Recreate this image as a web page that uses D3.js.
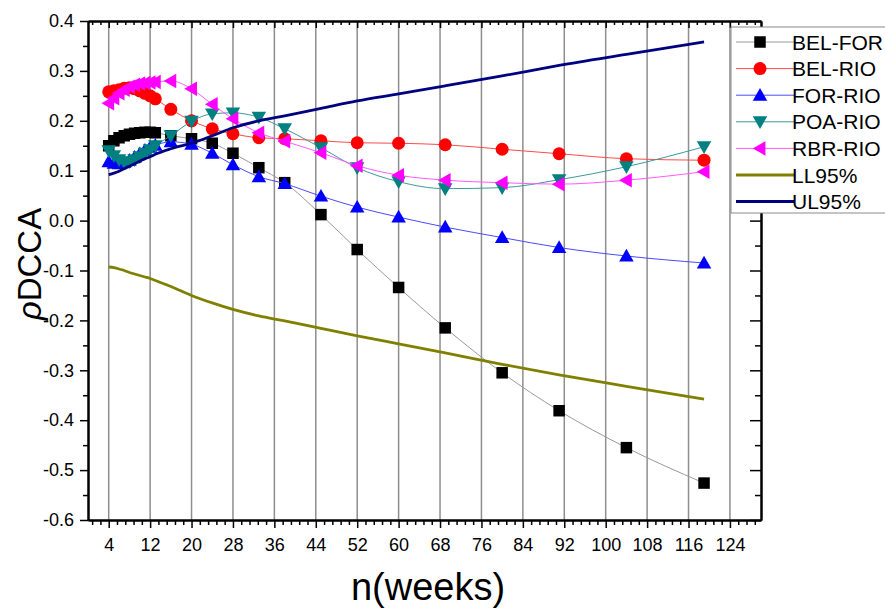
<!DOCTYPE html>
<html>
<head>
<meta charset="utf-8">
<script src="https://cdn.jsdelivr.net/npm/d3@7"></script>
<style>
  body { margin: 0; background: #fff; }
  svg { font-family: "Liberation Sans", Arial, sans-serif; }
</style>
</head>
<body>
<svg width="885" height="612"></svg>
<script>
// n values (weeks) shared by all series
const nWeeks = [4, 5, 6, 7, 8, 9, 10, 11, 12, 13, 16, 20, 24, 28, 33, 38, 45, 52, 60, 69, 80, 91, 104, 119];

const belFor = [0.150, 0.160, 0.166, 0.170, 0.173, 0.175, 0.176, 0.177, 0.177, 0.176, 0.170, 0.164, 0.155, 0.135, 0.106, 0.076, 0.012, -0.058, -0.134, -0.215, -0.305, -0.381, -0.455, -0.526];
const belRio = [0.258, 0.260, 0.262, 0.265, 0.266, 0.264, 0.260, 0.255, 0.250, 0.244, 0.223, 0.200, 0.184, 0.174, 0.166, 0.164, 0.160, 0.156, 0.155, 0.152, 0.143, 0.134, 0.124, 0.121];
const forRio = [0.118, 0.115, 0.114, 0.117, 0.121, 0.127, 0.134, 0.141, 0.147, 0.151, 0.158, 0.153, 0.135, 0.112, 0.088, 0.074, 0.049, 0.027, 0.007, -0.013, -0.034, -0.054, -0.071, -0.085];
const poaRio = [0.140, 0.130, 0.122, 0.117, 0.118, 0.122, 0.128, 0.135, 0.142, 0.150, 0.170, 0.199, 0.214, 0.216, 0.207, 0.184, 0.146, 0.106, 0.078, 0.064, 0.066, 0.082, 0.108, 0.148];
const rbrRio = [0.235, 0.245, 0.255, 0.262, 0.268, 0.272, 0.275, 0.276, 0.277, 0.278, 0.280, 0.264, 0.233, 0.204, 0.176, 0.159, 0.136, 0.110, 0.091, 0.081, 0.076, 0.073, 0.081, 0.098];
const ll95 = [-0.093, -0.094, -0.097, -0.100, -0.104, -0.107, -0.110, -0.113, -0.116, -0.120, -0.132, -0.150, -0.165, -0.178, -0.191, -0.201, -0.216, -0.231, -0.247, -0.265, -0.288, -0.309, -0.332, -0.358];
const ul95 = [0.092, 0.095, 0.099, 0.104, 0.109, 0.114, 0.119, 0.124, 0.128, 0.133, 0.144, 0.155, 0.170, 0.186, 0.200, 0.210, 0.225, 0.240, 0.254, 0.270, 0.290, 0.311, 0.333, 0.358];

const xTicks = [4, 12, 20, 28, 36, 44, 52, 60, 68, 76, 84, 92, 100, 108, 116, 124];
const yTicks = [0.4, 0.3, 0.2, 0.1, 0.0, -0.1, -0.2, -0.3, -0.4, -0.5, -0.6];

const series = [
  {name: "BEL-FOR", values: belFor, color: "#000000", line: "#9a9a9a", marker: "square"},
  {name: "BEL-RIO", values: belRio, color: "#ff0000", line: "#ff4a4a", marker: "circle"},
  {name: "FOR-RIO", values: forRio, color: "#0000ff", line: "#4a4aff", marker: "up"},
  {name: "POA-RIO", values: poaRio, color: "#008080", line: "#3a9a9a", marker: "down"},
  {name: "RBR-RIO", values: rbrRio, color: "#ff00ff", line: "#ff5aff", marker: "left"},
  {name: "LL95%", values: ll95, color: "#808000", line: "#808000", marker: null},
  {name: "UL95%", values: ul95, color: "#000080", line: "#000080", marker: null}
];

const svg = d3.select("svg");
const pLeft = 88, pRight = 761, pTop = 21, pBottom = 520;

const x = d3.scaleLinear().domain([0, 130]).range([pLeft, pRight]);
const y = d3.scaleLinear().domain([-0.6, 0.4]).range([pBottom, pTop]);

// minor ticks
const xMinor = d3.range(0.8, 130, 1.6).filter(v => xTicks.every(t => Math.abs(t - v) > 0.1));
const yMinor = d3.range(-0.55, 0.4, 0.1);

// vertical grid lines
svg.append("g")
  .selectAll("line")
  .data(xTicks)
  .join("line")
  .attr("x1", d => x(d)).attr("x2", d => x(d))
  .attr("y1", pTop).attr("y2", pBottom)
  .attr("stroke", "#8e8e8e")
  .attr("stroke-width", 1.5);

// axes
const fmtY = d => d.toFixed(1);
function styleAxis(g) {
  g.select(".domain").attr("stroke", "#000").attr("stroke-width", 2);
  g.selectAll(".tick line").attr("stroke", "#000").attr("stroke-width", 1.5);
  g.selectAll("text").attr("fill", "#000").style("font-size", "18px")
    .style("font-family", "'Liberation Sans', Arial, sans-serif");
}

svg.append("g").attr("transform", `translate(0,${pBottom})`)
  .call(d3.axisBottom(x).tickValues(xMinor).tickSize(5).tickFormat("").tickSizeOuter(0)).call(styleAxis);
svg.append("g").attr("transform", `translate(0,${pBottom})`)
  .call(d3.axisBottom(x).tickValues(xTicks).tickSize(8).tickPadding(10).tickSizeOuter(0)).call(styleAxis);

svg.append("g").attr("transform", `translate(0,${pTop})`)
  .call(d3.axisTop(x).tickValues(xMinor).tickSize(-4).tickFormat("").tickSizeOuter(0)).call(styleAxis);
svg.append("g").attr("transform", `translate(0,${pTop})`)
  .call(d3.axisTop(x).tickValues(xTicks).tickSize(-7).tickFormat("").tickSizeOuter(0)).call(styleAxis);

svg.append("g").attr("transform", `translate(${pLeft},0)`)
  .call(d3.axisLeft(y).tickValues(yMinor).tickSize(5).tickFormat("").tickSizeOuter(0)).call(styleAxis);
svg.append("g").attr("transform", `translate(${pLeft},0)`)
  .call(d3.axisLeft(y).tickValues(yTicks).tickSize(8).tickPadding(6).tickFormat(fmtY).tickSizeOuter(0)).call(styleAxis);

svg.append("g").attr("transform", `translate(${pRight},0)`)
  .call(d3.axisRight(y).tickValues(yMinor).tickSize(-6).tickFormat("").tickSizeOuter(0)).call(styleAxis);
svg.append("g").attr("transform", `translate(${pRight},0)`)
  .call(d3.axisRight(y).tickValues(yTicks).tickSize(-11).tickFormat("").tickSizeOuter(0)).call(styleAxis);

// marker shapes
function markerPath(type, s) {
  const h = s / 2;
  if (type === "square") return `M${-h},${-h}H${h}V${h}H${-h}Z`;
  if (type === "circle") return d3.symbol(d3.symbolCircle, Math.PI * h * h)();
  if (type === "up") return `M0,${-h}L${h},${h * 0.75}L${-h},${h * 0.75}Z`;
  if (type === "down") return `M0,${h}L${h},${-h * 0.75}L${-h},${-h * 0.75}Z`;
  if (type === "left") return `M${-h},0L${h * 0.75},${-h}L${h * 0.75},${h}Z`;
  return "";
}
const markerSize = {square: 11.5, circle: 13, up: 14.5, down: 14.5, left: 14.5};

const line = d3.line()
  .x((d, i) => x(nWeeks[i]))
  .y(d => y(d))
  .curve(d3.curveMonotoneX);

series.forEach(s => {
  const g = svg.append("g");
  g.append("path")
    .datum(s.values)
    .attr("d", line)
    .attr("fill", "none")
    .attr("stroke", s.line)
    .attr("stroke-width", s.marker ? 1 : 2.8);
  if (s.marker) {
    g.selectAll("path.mk")
      .data(s.values)
      .join("path")
      .attr("class", "mk")
      .attr("transform", (d, i) => `translate(${x(nWeeks[i])},${y(d)})`)
      .attr("d", markerPath(s.marker, markerSize[s.marker]))
      .attr("fill", s.color);
  }
});

// legend
const lg = svg.append("g").attr("transform", "translate(731,27)");
lg.append("rect")
  .attr("width", 165).attr("height", 186)
  .attr("fill", "#fff").attr("stroke", "#8a8a8a").attr("stroke-width", 1);
series.forEach((s, i) => {
  const yy = 15 + i * 26.6;
  lg.append("line")
    .attr("x1", 5).attr("x2", 63).attr("y1", yy).attr("y2", yy)
    .attr("stroke", s.marker ? s.line : s.color)
    .attr("stroke-width", s.marker ? 1 : 3);
  if (s.marker) {
    lg.append("path")
      .attr("transform", `translate(29,${yy})`)
      .attr("d", markerPath(s.marker, markerSize[s.marker]))
      .attr("fill", s.color);
  }
  lg.append("text")
    .attr("x", 61).attr("y", yy).attr("dy", "0.36em")
    .style("font-size", "21px")
    .text(s.name);
});

// axis titles
svg.append("text")
  .attr("transform", "translate(41,264) rotate(-90)")
  .attr("text-anchor", "middle")
  .style("font-size", "33px")
  .call(t => {
    t.append("tspan").style("font-style", "italic").text("ρ");
    t.append("tspan").text("DCCA");
  });

svg.append("text")
  .attr("x", 428).attr("y", 600)
  .attr("text-anchor", "middle")
  .style("font-size", "38px")
  .text("n(weeks)");
</script>
</body>
</html>
